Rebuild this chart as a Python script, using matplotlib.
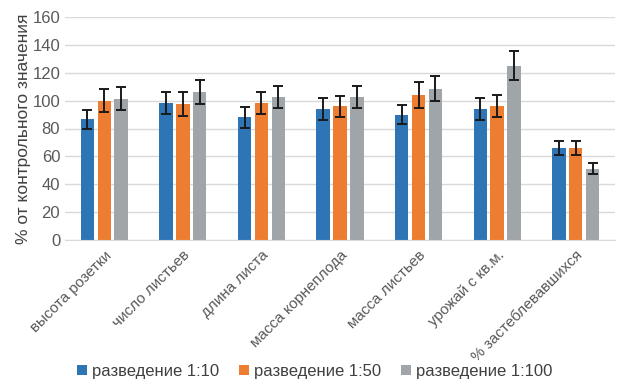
import numpy as np
import matplotlib.pyplot as plt

plt.rcParams["font.family"] = ["Liberation Sans", "DejaVu Sans"]

categories = ["высота розетки", "число листьев", "длина листа", "масса корнеплода",
              "масса листьев", "урожай с кв.м.", "% застеблевавшихся"]
series = ["разведение 1:10", "разведение 1:50", "разведение 1:100"]
vals_10 = [86.5, 98.5, 88, 94, 90, 94, 66]
vals_50 = [100, 97.5, 98.5, 96, 104, 96, 66]
vals_100 = [101.5, 106, 102.5, 102.5, 108.5, 125, 51]
err_10 = [7, 8, 7.5, 8, 7, 8, 5]
err_50 = [8, 8.5, 8, 7.5, 9.5, 8, 5]
err_100 = [8, 8.5, 8, 8, 9, 10.5, 4]
colors = ["#2E75B6", "#ED7D31", "#A0A5AA"]

fig = plt.figure(figsize=(6.29, 3.92), dpi=100)
ax = fig.add_axes([65 / 629, 1 - 240 / 392, 550 / 629, 223 / 392])

x = np.arange(len(categories))
w = 0.17
step = 0.215
for i, (v, e, c, name) in enumerate(zip([vals_10, vals_50, vals_100],
                                        [err_10, err_50, err_100], colors, series)):
    ax.bar(x + (i - 1) * step, v, w, color=c, label=name, zorder=2,
           yerr=e, error_kw=dict(ecolor="#1a1a1a", elinewidth=1.4, capsize=3.5, capthick=1.4))

ax.set_xlim(-0.5, len(categories) - 0.5)
ax.set_ylim(0, 160)
ax.set_yticks(range(0, 161, 20))
ax.yaxis.grid(True, color="#D9D9D9", linewidth=1, zorder=0)
ax.set_axisbelow(True)
for s in ["top", "right", "left"]:
    ax.spines[s].set_visible(False)
ax.spines["bottom"].set_color("#D9D9D9")
ax.tick_params(axis="both", length=0, colors="#595959", labelsize=12)
ax.tick_params(axis="x", pad=6)
ax.set_xticks(x)
ax.set_xticklabels(categories, rotation=45, ha="right", rotation_mode="anchor", fontsize=11)
ax.set_ylabel("% от контрольного значения", fontsize=12.5, color="#404040", labelpad=1)

handles, labels = ax.get_legend_handles_labels()
fig.legend(handles, labels, loc="lower center", bbox_to_anchor=(0.5, -0.005), ncol=3,
           frameon=False, fontsize=12, labelcolor="#404040", handlelength=0.6,
           handleheight=0.6, handletextpad=0.3, columnspacing=1.2)

fig.savefig("out.png", dpi=100)
